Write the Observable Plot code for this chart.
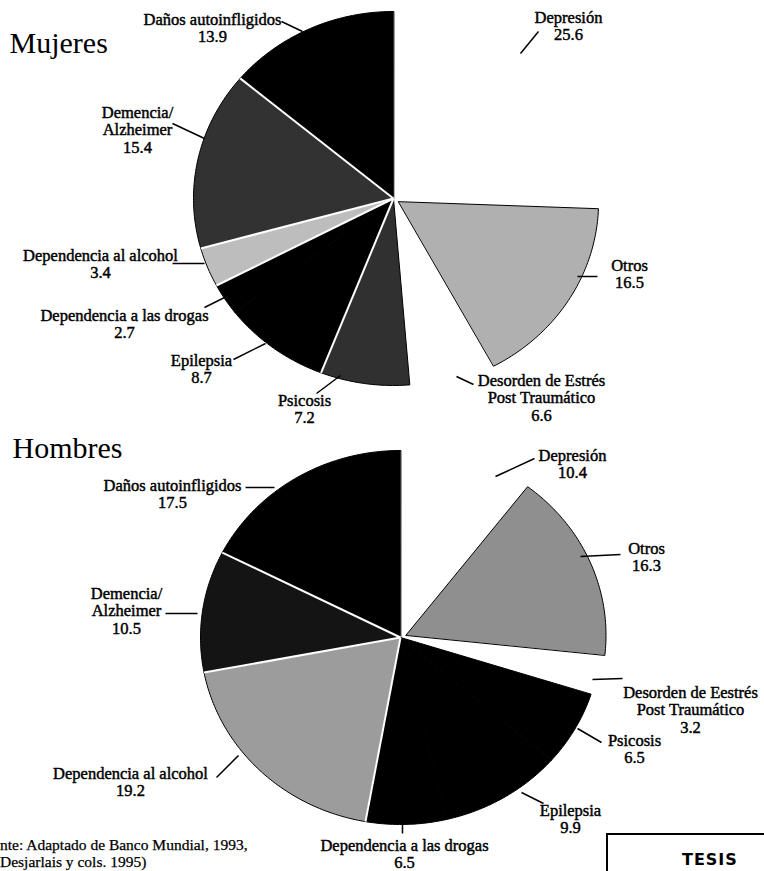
<!DOCTYPE html>
<html>
<head>
<meta charset="utf-8">
<script src="https://cdn.jsdelivr.net/npm/d3@7"></script>
<script src="https://cdn.jsdelivr.net/npm/@observablehq/plot@0.6"></script>
<style>
  body { margin: 0; background: #fff; }
  #wrap { position: relative; width: 764px; height: 871px; overflow: hidden; font-family: "Liberation Serif", serif; background: #fff; }
  .panel { position: absolute; left: 0; }
  .cap { position: absolute; font-size: 15.5px; white-space: nowrap; color: #000; line-height: 15px; height: 15px; -webkit-text-stroke: 0.25px #000; }
  .stamp { position: absolute; left: 606px; top: 833px; width: 170px; height: 60px; border: 2px solid #000; border-right: none; }
  .stamp span { position: absolute; left: 74px; top: 15px; font-family: "DejaVu Sans", sans-serif; font-weight: bold; font-size: 16px; letter-spacing: 1px; }
</style>
</head>
<body>
<div id="wrap"></div>
<script>
// ---------------- DATA ----------------
const mujeresCategories = ["Depresión", "Otros", "Desorden de Estrés\nPost Traumático", "Psicosis", "Epilepsia",
  "Dependencia a las drogas", "Dependencia al alcohol", "Demencia/\nAlzheimer", "Daños autoinfligidos"];
const mujeresValues = [25.6, 16.5, 6.6, 7.2, 8.7, 2.7, 3.4, 15.4, 13.9];

const hombresCategories = ["Depresión", "Otros", "Desorden de Eestrés\nPost Traumático", "Psicosis", "Epilepsia",
  "Dependencia a las drogas", "Dependencia al alcohol", "Demencia/\nAlzheimer", "Daños autoinfligidos"];
const hombresValues = [10.4, 16.3, 3.2, 6.5, 9.9, 6.5, 19.2, 10.5, 17.5];

const captionLines = ["nte: Adaptado de Banco Mundial, 1993,", "Desjarlais y cols. 1995)"];
const stampText = "TESIS";

// ---------------- STYLES ----------------
const mujeresFills = ["#ffffff", "#b0b0b0", "#ffffff", "#303030", "#000000", "#000000", "#bdbdbd", "#323232", "#000000"];
const hombresFills = ["#ffffff", "#8f8f8f", "#ffffff", "#000000", "#000000", "#000000", "#9c9c9c", "#141414", "#000000"];
const mujeresExplode = [0, 6, 0, 0, 0, 0, 0, 0, 0];
const hombresExplode = [0, 6, 0, 0, 0, 0, 0, 0, 0];
// slice indices whose starting edge is drawn as a white separator
const mujeresSeparators = [4, 6, 7, 8];
const hombresSeparators = [6, 7, 8];

// ---------------- LAYOUT (page pixels) ----------------
// label: [centerX, firstLineY, leaderX1, leaderY1, leaderX2, leaderY2]
const mujeresLabelLayout = [
  [568, 17, 538, 31, 520, 53],
  [629, 265, 577, 276, 597, 276],
  [541, 380, 456, 376, 473, 384],
  [304, 400, 316, 393, 340, 375],
  [201, 360, 233, 359, 265, 343],
  [124, 315, 204, 307, 224, 297],
  [100, 255, 172, 263, 204, 263],
  [137, 112, 172, 123, 204, 138],
  [212, 19, 281, 21, 302, 31]
];
const hombresLabelLayout = [
  [572, 455, 534, 458, 495, 476],
  [646, 548, 580, 556, 620, 554],
  [690, 692, 592, 679, 622, 678],
  [634, 740, 577, 728, 601, 742],
  [570, 810, 521, 792, 543, 803],
  [404, 845, 402, 824, 402, 833],
  [130, 773, 216, 777, 238, 755],
  [126, 593, 165, 613, 197, 613],
  [172, 485, 245, 487, 274, 487]
];

const W = 764, RX = 200, RY = 187, LINE = 17.5;

const panels = [
  {title: "Mujeres", titleX: 9, titleY: 43, cats: mujeresCategories, values: mujeresValues, fills: mujeresFills,
   explode: mujeresExplode, seps: mujeresSeparators, labels: mujeresLabelLayout, top: 0, height: 430, cx: 393, cy: 198},
  {title: "Hombres", titleX: 12, titleY: 448, cats: hombresCategories, values: hombresValues, fills: hombresFills,
   explode: hombresExplode, seps: hombresSeparators, labels: hombresLabelLayout, top: 430, height: 441, cx: 400, cy: 637}
];

function build(p) {
  const total = d3.sum(p.values);
  const pts = [];
  const starts = [];
  let acc = 0;
  p.values.forEach((v, i) => {
    const a0 = acc / total * 2 * Math.PI;
    const a1 = (acc + v) / total * 2 * Math.PI;
    starts.push(a0);
    acc += v;
    const am = (a0 + a1) / 2;
    const ox = p.explode[i] / RX * Math.sin(am), oy = p.explode[i] / RY * Math.cos(am);
    const fill = p.fills[i];
    const stroke = fill === "#ffffff" ? "none" : "#000000";
    pts.push({slice: i, x: ox, y: oy, fill, stroke});
    const n = Math.max(2, Math.ceil((a1 - a0) / (Math.PI / 180)));
    for (let j = 0; j <= n; j++) {
      const a = a0 + (a1 - a0) * j / n;
      pts.push({slice: i, x: ox + Math.sin(a), y: oy + Math.cos(a), fill, stroke});
    }
  });
  const seps = p.seps.map(i => ({x: Math.sin(starts[i]), y: Math.cos(starts[i])}));
  const ux = px => (px - p.cx) / RX;
  const uy = py => (p.cy - py) / RY;
  const leaders = p.labels.map(l => ({x1: ux(l[2]), y1: uy(l[3]), x2: ux(l[4]), y2: uy(l[5])}));
  const lines = [];
  p.cats.forEach((c, i) => {
    const parts = c.split("\n").concat([p.values[i].toFixed(1)]);
    parts.forEach((t, j) => lines.push({x: ux(p.labels[i][0]), y: uy(p.labels[i][1] + j * LINE), text: t}));
  });
  const cyl = p.cy - p.top;
  const chart = Plot.plot({
    width: W, height: p.height, margin: 0,
    x: {domain: [(0 - p.cx) / RX, (W - p.cx) / RX], axis: null},
    y: {domain: [-(p.height - cyl) / RY, cyl / RY], axis: null},
    color: {type: "identity"},
    style: {fontFamily: '"Liberation Serif", serif', background: "transparent", overflow: "visible"},
    marks: [
      Plot.line(pts, {x: "x", y: "y", z: "slice", fill: "fill", stroke: "stroke", strokeWidth: 1, curve: "linear-closed"}),
      Plot.link(seps, {x1: 0, y1: 0, x2: "x", y2: "y", stroke: "white", strokeWidth: 2}),
      Plot.link(leaders, {x1: "x1", y1: "y1", x2: "x2", y2: "y2", stroke: "black", strokeWidth: 1.5}),
      Plot.text(lines, {x: "x", y: "y", text: "text", fontSize: 16.5, textAnchor: "middle", lineAnchor: "middle",
        fill: "black", stroke: "black", strokeWidth: 0.45}),
      Plot.text([p.title], {x: ux(p.titleX), y: uy(p.titleY), text: d => d, fontSize: 30, textAnchor: "start",
        lineAnchor: "middle", fill: "black"})
    ]
  });
  chart.classList.add("panel");
  chart.style.top = p.top + "px";
  return chart;
}

const wrap = document.getElementById("wrap");
panels.forEach(p => wrap.appendChild(build(p)));

captionLines.forEach((t, i) => {
  const c = document.createElement("div");
  c.className = "cap";
  c.style.left = "0px";
  c.style.top = (837 + i * 17) + "px";
  c.textContent = t;
  wrap.appendChild(c);
});
const stamp = document.createElement("div");
stamp.className = "stamp";
const s = document.createElement("span");
s.textContent = stampText;
stamp.appendChild(s);
wrap.appendChild(stamp);
</script>
</body>
</html>
